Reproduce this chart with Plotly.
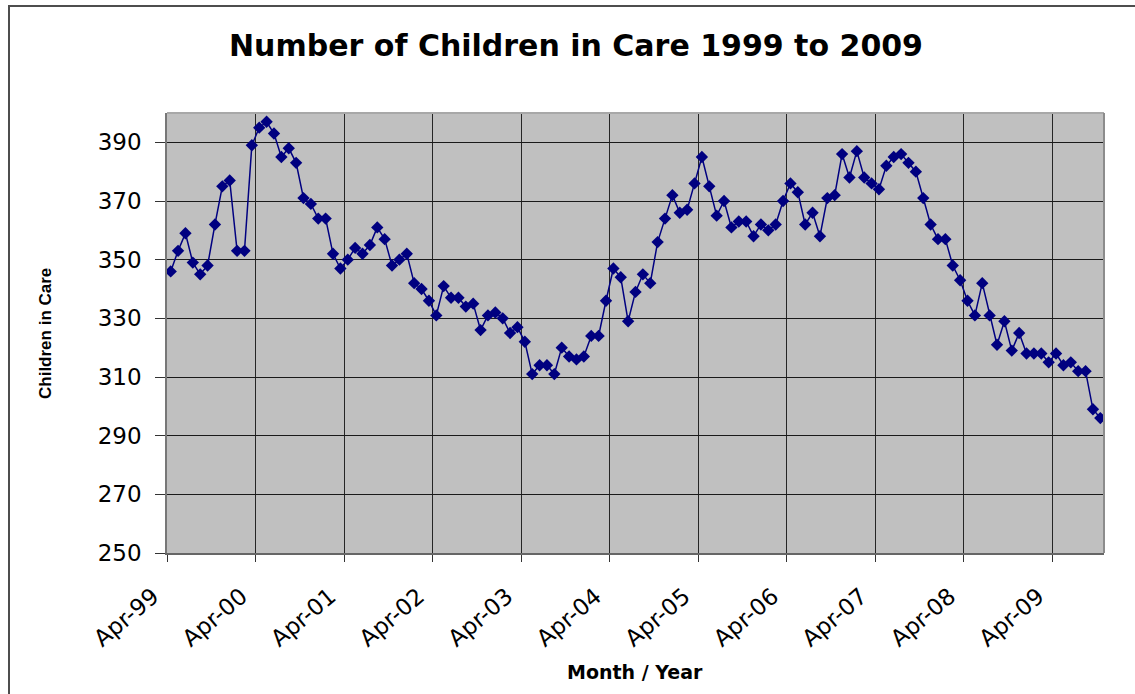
import plotly.graph_objects as go
import pandas as pd

# ---- data ----
months = pd.date_range("1999-04-01", periods=127, freq="MS").strftime("%b-%y").tolist()
children = [
    346, 353, 359, 349, 345, 348, 362, 375, 377, 353, 353, 389,
    395, 397, 393, 385, 388, 383, 371, 369, 364, 364, 352, 347,
    350, 354, 352, 355, 361, 357, 348, 350, 352, 342, 340, 336,
    331, 341, 337, 337, 334, 335, 326, 331, 332, 330, 325, 327,
    322, 311, 314, 314, 311, 320, 317, 316, 317, 324, 324, 336,
    347, 344, 329, 339, 345, 342, 356, 364, 372, 366, 367, 376,
    385, 375, 365, 370, 361, 363, 363, 358, 362, 360, 362, 370,
    376, 373, 362, 366, 358, 371, 372, 386, 378, 387, 378, 376,
    374, 382, 385, 386, 383, 380, 371, 362, 357, 357, 348, 343,
    336, 331, 342, 331, 321, 329, 319, 325, 318, 318, 318, 315,
    318, 314, 315, 312, 312, 299, 296,
]
tick_labels = ["Apr-99", "Apr-00", "Apr-01", "Apr-02", "Apr-03", "Apr-04",
               "Apr-05", "Apr-06", "Apr-07", "Apr-08", "Apr-09"]
y_ticks = [250, 270, 290, 310, 330, 350, 370, 390]

x_idx = list(range(len(children)))
tick_pos = [i * 12 - 0.5 for i in range(len(tick_labels))]

W, H = 1135, 694
L, R, T, B = 167, 31, 113, 141
pw, ph = W - L - R, H - T - B

def px_x(p):
    return (p - L) / pw

def px_y(p):
    return (H - B - p) / ph

WIDE = "DejaVu Sans, Verdana, sans-serif"
ARIAL = "Liberation Sans, Arial, sans-serif"

fig = go.Figure()
fig.add_trace(go.Scatter(
    x=x_idx, y=children, mode="lines+markers",
    text=months,
    line=dict(color="#000080", width=1.5),
    marker=dict(symbol="diamond", size=9.5, color="#000080"),
    hovertemplate="%{text}: %{y}<extra></extra>",
))

fig.update_layout(
    width=W, height=H,
    margin=dict(l=L, r=R, t=T, b=B, pad=0),
    paper_bgcolor="white",
    plot_bgcolor="#C0C0C0",
    showlegend=False,
    title=dict(text="<b>Number of Children in Care 1999 to 2009</b>",
               x=px_x(576), xref="paper", xanchor="center",
               y=1 - 45 / H, yref="container", yanchor="middle",
               font=dict(family=WIDE, size=30, color="black")),
    font=dict(family=WIDE, color="black"),
)

fig.update_xaxes(
    range=[-0.5, len(children) - 0.5],
    tickmode="array", tickvals=tick_pos, ticktext=tick_labels,
    tickangle=-40, ticks="outside", ticklen=7, tickcolor="#333333",
    tickfont=dict(family=WIDE, size=23, color="black"),
    showgrid=True, gridcolor="#262626", gridwidth=1,
    showline=True, linecolor="#666666", linewidth=2, mirror=False,
    zeroline=False, ticklabelstandoff=12, ticklabelshift=-14,
)
fig.update_yaxes(
    range=[250, 400],
    tickmode="array", tickvals=y_ticks,
    ticks="outside", ticklen=10, tickcolor="#333333",
    tickfont=dict(family=WIDE, size=23, color="black"),
    showgrid=True, gridcolor="#1a1a1a", gridwidth=1,
    showline=True, linecolor="#777777", linewidth=1.5, mirror=False,
    zeroline=False, ticklabelstandoff=9,
)

# plot area top / right borders
fig.add_shape(type="line", xref="paper", yref="paper", x0=0, x1=1, y0=1, y1=1,
              line=dict(color="#A8A8A8", width=2))
fig.add_shape(type="line", xref="paper", yref="paper", x0=1, x1=1, y0=0, y1=1,
              line=dict(color="#8C8C8C", width=2))

# outer chart frame
fig.add_shape(type="rect", xref="paper", yref="paper",
              x0=px_x(9), x1=px_x(1145), y0=px_y(700), y1=px_y(6),
              line=dict(color="#4d4d4d", width=2), fillcolor="rgba(0,0,0,0)",
              layer="below")

# axis titles
fig.add_annotation(text="<b>Children in Care</b>", xref="paper", yref="paper",
                   x=px_x(45), y=px_y(334), textangle=-90, showarrow=False,
                   xanchor="center", yanchor="middle",
                   font=dict(family=ARIAL, size=17, color="black"))
fig.add_annotation(text="<b>Month / Year</b>", xref="paper", yref="paper",
                   x=px_x(635), y=px_y(672), showarrow=False,
                   xanchor="center", yanchor="middle",
                   font=dict(family=WIDE, size=19, color="black"))

fig.write_html("out.html")
